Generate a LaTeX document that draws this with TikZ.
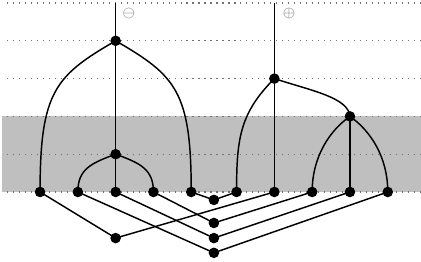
\documentclass[tikz,border=0pt]{standalone}
\usepackage{amsmath, amssymb}
\usepackage{tikz}
\usetikzlibrary{calc}
\usepackage{tkz-euclide}

\begin{document}
\begin{tikzpicture}[
    wire/.style={line width=1.1pt, black},
    level/.style={black!55, line width=0.9pt, dash pattern=on 0.9pt off 3.6pt},
    sign/.style={text=black!60, inner sep=0pt, font=\large}]
    \useasboundingbox (-0.06,-0.85) rectangle (11.08,6.08);

    % --- 1. 灰色區域與虛線層 ---
    \fill[black!25] (0,1) rectangle (11.08,3);
    \foreach \y in {1,...,6}
        \draw[level] (0.13,\y) -- (11.08,\y);

    % --- 2. 定義上方的點 ---
    \tkzDefPoint(3,6){Mo}
    \tkzDefPoint(3,5){Mi}
    \tkzDefPoint(3,2){R}
    \tkzDefPoint(7.2,6){Po}
    \tkzDefPoint(7.2,4){Pi}
    \tkzDefPoint(9.2,3){Q}

    % --- 3. 定義底列 B1..B10 與下方的點 ---
    \foreach \x [count=\i] in {1,2,3,4,5,6.2,7.2,8.2,9.2,10.2}{
        \tkzDefPoint(\x,1){B\i}
    }
    \tkzDefPoint(5.6,0.79){S}
    \tkzDefPoint(5.6,0.18){C1}
    \tkzDefPoint(5.6,-0.22){C2}
    \tkzDefPoint(5.6,-0.61){C3}
    \tkzDefPoint(3,-0.22){E}

    % --- 4. 曲線 ---
    \draw[wire] (Mi) .. controls +(-150:1.85) and +(90:2.65) .. (B1);
    \draw[wire] (Mi) .. controls +(-30:1.85) and +(90:2.65) .. (B5);
    \draw[wire] (R) .. controls +(-160:0.7) and +(90:0.6) .. (B2);
    \draw[wire] (R) .. controls +(-20:0.7) and +(90:0.6) .. (B4);
    \draw[wire] (Pi) .. controls +(-135:1.3) and +(90:1.4) .. (B6);
    \draw[wire] (Pi) .. controls +(-18:1.05) and +(95:0.5) .. (Q);
    \draw[wire] (Q) .. controls +(-145:0.66) and +(90:0.93) .. (B8);
    \draw[wire] (Q) .. controls +(-35:0.66) and +(90:0.93) .. (B10);

    % --- 5. 線段 ---
    \foreach \a/\b in {Mo/Mi, Mi/R, R/B3, Po/Pi, Pi/B7, Q/B9,
                       B1/E, E/B7, B2/C3, C3/B10, B3/C2, C2/B9,
                       B4/C1, C1/B8, B5/S, S/B6}
        \draw[wire] (\a) -- (\b);

    % --- 6. 點 ---
    \foreach \p in {Mi,R,Pi,Q,S,C1,C2,C3,E,B1,B2,B3,B4,B5,B6,B7,B8,B9,B10}
        \fill (\p) circle (0.14);

    \node[sign] (minus) at (3.35,5.71) {$\ominus$};
    \node[sign] (plus) at (7.59,5.71) {$\oplus$};

\end{tikzpicture}
\end{document}
